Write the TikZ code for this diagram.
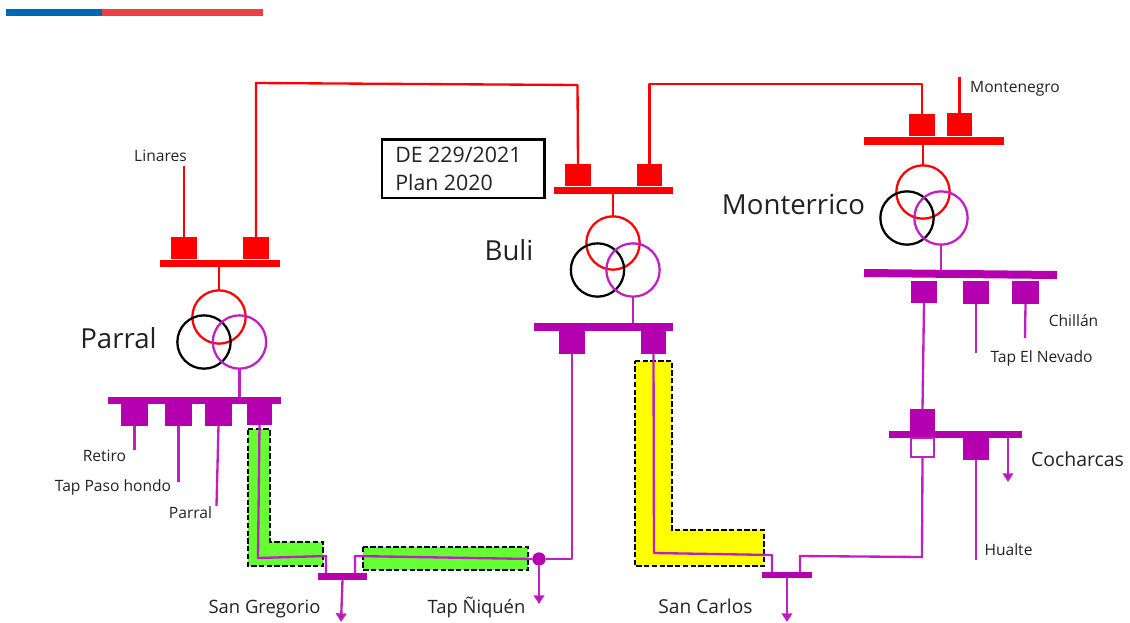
\documentclass[tikz,border=0pt]{standalone}
\usepackage{fontspec}
\setmainfont{Open Sans}
\usetikzlibrary{arrows.meta,calc}
\definecolor{pur}{HTML}{B400AE}
\definecolor{lpur}{HTML}{C020C0}
\definecolor{rd}{HTML}{FF0000}
\definecolor{grn}{HTML}{66FF33}
\definecolor{ylw}{HTML}{FFFF00}
\definecolor{barblue}{HTML}{0067B1}
\definecolor{barred}{HTML}{EF3E45}
\definecolor{txt}{HTML}{222222}
\newcommand{\Rct}[6]{%
  \pgfmathsetmacro{\rw}{(#5-#3)*0.75}%
  \pgfmathsetmacro{\rh}{(#6-#4)*0.75}%
  \node[#2,minimum width=\rw pt,minimum height=\rh pt] (#1) at ({(#3+#5)/2},{(#4+#6)/2}) {};}
\tikzset{
  pb/.style={fill=pur,draw=none,inner sep=0pt,outer sep=0pt,rectangle},
  rb/.style={fill=rd,draw=none,inner sep=0pt,outer sep=0pt,rectangle},
  pl/.style={draw=lpur,line width=1.75pt,line join=round},
  rl/.style={draw=rd,line width=1.75pt,line join=round},
  arr/.style={pl,-{Triangle[length=6.5pt,width=8pt,fill=pur]}},
  circR/.style={circle,draw=rd,line width=1.7pt,inner sep=0pt,outer sep=0pt,minimum size=40pt},
  circK/.style={circle,draw=black,line width=1.7pt,inner sep=0pt,outer sep=0pt,minimum size=40pt},
  circP/.style={circle,draw=lpur,line width=1.7pt,inner sep=0pt,outer sep=0pt,minimum size=40pt},
  dashzone/.style={draw=black,line width=1.9pt,dash pattern=on 4pt off 1.8pt,line join=miter},
  lab/.style={inner sep=0pt,text=txt,font=\fontsize{11.7}{14}\selectfont},
  labm/.style={inner sep=0pt,text=txt,font=\fontsize{13.8}{16}\selectfont},
  labb/.style={inner sep=0pt,text=txt,font=\fontsize{20.7}{24}\selectfont},
}
\begin{document}
\begin{tikzpicture}[x=0.75pt,y=-0.75pt]
\useasboundingbox (0,0) rectangle (1130,622);
% top bar
\fill[barblue] (6,9) rectangle (102,16);
\fill[barred] (102,9) rectangle (263,16);
% highlighted zones
\path[fill=grn,dashzone] (248,429) -- (270,429) -- (270,542) -- (323,542) -- (323,566) -- (248,566) -- cycle;
\path[fill=grn,dashzone,draw=black!80!blue] (363,547) rectangle (528,570);
\path[fill=ylw,dashzone] (635,361) -- (672,361) -- (672,530) -- (764,530) -- (764,566) -- (635,566) -- cycle;
% Parral
\Rct{pRb}{rb}{160}{260}{280}{267}
\Rct{pR1}{rb}{171}{237}{197}{259}
\Rct{pR2}{rb}{243}{237}{269}{259}
\node[circR] (pCr) at (219,317) {};
\node[circK] (pCk) at (204,342) {};
\node[circP] (pCp) at (239.5,342) {};
\Rct{pPb}{pb}{108}{397}{281}{404}
\Rct{pP1}{pb}{121}{404}{148}{426}
\Rct{pP2}{pb}{165}{404}{192}{426}
\Rct{pP3}{pb}{205}{404}{232}{426}
\Rct{pP4}{pb}{247}{404}{272}{425}
% Buli
\Rct{bRb}{rb}{554}{187}{673}{194}
\Rct{bR1}{rb}{565}{164}{591}{186}
\Rct{bR2}{rb}{637}{164}{662}{186}
\node[circR] (bCr) at (613,243) {};
\node[circK] (bCk) at (597.5,270) {};
\node[circP] (bCp) at (633,270) {};
\Rct{bPb}{pb}{534}{323}{673}{331}
\Rct{bP1}{pb}{559}{331}{585}{354}
\Rct{bP2}{pb}{641}{331}{666}{354}
% Monterrico
\Rct{mRb}{rb}{864}{137}{1004}{145}
\Rct{mR1}{rb}{909}{114}{935}{136}
\Rct{mR2}{rb}{947}{113}{972}{136}
\node[circR] (mCr) at (923,192) {};
\node[circK] (mCk) at (907,218) {};
\node[circP] (mCp) at (941,218) {};
\Rct{mPb}{pb,rotate=-0.6}{864}{270}{1057}{278}
\Rct{mP1}{pb}{911}{281}{937}{303}
\Rct{mP2}{pb}{963}{281}{989}{304}
\Rct{mP3}{pb}{1012}{281}{1039}{304}
% Cocharcas
\Rct{cT}{pb}{910}{409}{935}{431}
\Rct{cPb}{pb}{889}{431}{1022}{438}
\node[rectangle,draw=lpur,line width=1.3pt,fill=white,inner sep=0pt,outer sep=0pt,minimum width=17pt,minimum height=14pt] (cW) at (922.5,447.5) {};
\Rct{cP2}{pb}{963}{438}{989}{460}
% San Gregorio, Tap, San Carlos
\Rct{sgB}{pb}{318}{573}{367}{580}
\Rct{scB}{pb}{762}{572}{812}{578}
\node[circle,fill=pur,inner sep=0pt,outer sep=0pt,minimum size=10pt] (tap) at (539,559) {};
% free ends
\coordinate (eLin) at (184,166);
\coordinate (eMon) at (959.5,77);
\coordinate (eRet) at (134.5,450);
\coordinate (ePas) at (178.5,482);
\coordinate (ePar) at (216.5,506);
\coordinate (eNev) at (976,353);
\coordinate (eChi) at (1025,338);
\coordinate (eHua) at (976,560);
% red connectors
\draw[rl] (pR1.north) -- (eLin);
\draw[rl] (pR2.north) -- (256,83) -- (577.5,85) -- (bR1.north);
\draw[rl] (bR2.north) -- (649.5,84) -- (922,84) -- (mR1.north);
\draw[rl] (mR2.north) -- (eMon);
\draw[rl] (pCr.north) -- (pCr.north |- pRb.south);
\draw[rl] (bCr.north) -- (bCr.north |- bRb.south);
\draw[rl] (mCr.north) -- (mCr.north |- mRb.south);
% purple connectors
\draw[pl] (pCp.south) -- (pCp.south |- pPb.north);
\draw[pl] (bCp.south) -- (bCp.south |- bPb.north);
\draw[pl] (mCp.south) -- (mCp.south |- mPb.north);
\draw[pl] (pP1.south) -- (eRet);
\draw[pl] (pP2.south) -- (ePas);
\draw[pl] (pP3.south) -- (ePar);
\draw[pl] (pP4.south) -- (258,558) -- (326,556) -- (326,573);
\draw[pl] (355,573) -- (355,556) -- (tap.west);
\draw[pl] (tap.east) -- (572,559) -- (bP1.south);
\draw[pl] (bP2.south) -- (654,553) -- (772,555) -- (772,572);
\draw[pl] (800,572) -- (800,556) -- (922,557) -- (cW.south);
\draw[pl] (mP1.south) -- (cT.north);
\draw[pl] (mP2.south) -- (eNev);
\draw[pl] (mP3.south) -- (eChi);
\draw[pl] (cP2.south) -- (eHua);
% arrows
\draw[arr] (sgB.south) -- (341,622);
\draw[arr] (tap.south) -- (539,604);
\draw[arr] (scB.south) -- (787,622);
\draw[arr] (1008,438) -- (1008,482);
% text box
\node[draw=black,line width=1.8pt,fill=white,inner sep=0pt,outer sep=0pt,minimum width=122pt,minimum height=44pt] (de) at (463.25,168.75) {};
\node[anchor=base west,inner sep=0pt,text=txt,font=\fontsize{16}{18}\selectfont] (de1) at (395,162) {DE 229/2021};
\node[anchor=base west,inner sep=0pt,text=txt,font=\fontsize{16}{18}\selectfont] (de2) at (395,190) {Plan 2020};
% labels
\node[lab] (lLin) at (160.5,156) {Linares};
\node[lab] (lMon) at (1015,89) {Montenegro};
\node[labb] (lPar) at (118.5,338) {Parral};
\node[labb] (lBul) at (509,250) {Buli};
\node[labb] (lMot) at (793.5,204) {Monterrico};
\node[lab] (lRet) at (104.5,456) {Retiro};
\node[lab] (lPas) at (113,487) {Tap Paso hondo};
\node[lab] (lPa2) at (190.5,513) {Parral};
\node[labm] (lSG) at (264.5,608.5) {San Gregorio};
\node[labm] (lTN) at (476.5,607) {Tap Ñiquén};
\node[font=\fontsize{14.4}{17}\selectfont,inner sep=0pt,text=txt] (lSC) at (705.5,606) {San Carlos};
\node[lab] (lChi) at (1073.5,321) {Chillán};
\node[lab] (lNev) at (1041.5,358) {Tap El Nevado};
\node[font=\fontsize{14.6}{17}\selectfont,inner sep=0pt,text=txt] (lCoc) at (1077.5,459) {Cocharcas};
\node[lab] (lHua) at (1008.5,550) {Hualte};
\end{tikzpicture}
\end{document}
